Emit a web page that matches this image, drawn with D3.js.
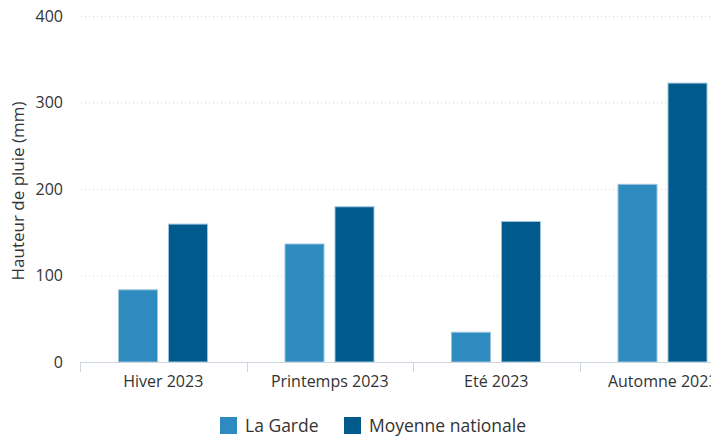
<!DOCTYPE html>
<html>
<head>
<meta charset="utf-8">
<script src="https://cdn.jsdelivr.net/npm/d3@7"></script>
<style>
  html, body { margin: 0; padding: 0; background: #fff; }
  svg { display: block; font-family: "Open Sans", sans-serif; }
</style>
</head>
<body>
<svg id="chart" width="711" height="437"></svg>
<script>
// Seasonal rainfall 2023 (mm)
const categories = ["Hiver 2023", "Printemps 2023", "Eté 2023", "Automne 2023"];
const seriesNames = ["La Garde", "Moyenne nationale"];
const laGarde = [84, 137, 35, 206];
const moyenneNationale = [160, 180, 163, 323];
const yTicks = [0, 100, 200, 300, 400];
const colors = ["#2e8bbf", "#005a8c"];
const textColor = "#333";

const svg = d3.select("#chart");

const x = d3.scaleBand().domain(categories).range([80, 746]).padding(0);
const xInner = d3.scaleBand().domain(seriesNames).range([38, 128]).paddingInner(0.2);
const y = d3.scaleLinear().domain([0, 400]).range([362, 16]);

// gridlines
svg.append("g")
  .selectAll("line")
  .data(yTicks.filter(d => d > 0))
  .join("line")
  .attr("x1", 81).attr("x2", 711)
  .attr("y1", d => y(d) + 0.5).attr("y2", d => y(d) + 0.5)
  .attr("stroke", "#d4d4d4")
  .attr("stroke-width", 1)
  .attr("stroke-dasharray", "1,3");

// y tick labels
svg.append("g")
  .selectAll("text")
  .data(yTicks)
  .join("text")
  .attr("x", 63).attr("y", d => y(d))
  .attr("dy", "0.35em")
  .attr("text-anchor", "end")
  .attr("font-size", 16)
  .attr("fill", textColor)
  .text(d => d);

// y axis title
svg.append("text")
  .attr("transform", "translate(24,191) rotate(-90)")
  .attr("text-anchor", "middle")
  .attr("font-size", 17)
  .attr("fill", textColor)
  .text("Hauteur de pluie (mm)");

// bars
const series = [laGarde, moyenneNationale];
const groups = svg.append("g")
  .selectAll("g")
  .data(categories)
  .join("g")
  .attr("transform", c => `translate(${x(c)},0)`);

groups.selectAll("rect")
  .data((c, i) => seriesNames.map((s, j) => ({ s, j, v: series[j][i] })))
  .join("rect")
  .attr("x", d => xInner(d.s) + 0.5)
  .attr("width", xInner.bandwidth() - 1)
  .attr("y", d => y(d.v) + 0.5)
  .attr("height", d => y(0) - y(d.v) - 0.5)
  .attr("fill", d => colors[d.j])
  .attr("stroke", "#9cc3dd")
  .attr("stroke-width", 1);

// x axis
const xAxis = d3.axisBottom(x).tickSize(0).tickPadding(14);
const ax = svg.append("g").attr("transform", "translate(0,362)").call(xAxis);
ax.select(".domain").attr("stroke", "#ccd6e0").attr("d", "M80.5,0.5H711");
ax.selectAll("text").attr("font-size", 16).attr("fill", textColor)
  .attr("font-family", "Open Sans, sans-serif");
// category separators
svg.append("g")
  .selectAll("line")
  .data(categories)
  .join("line")
  .attr("x1", c => Math.round(x(c)) + 0.5).attr("x2", c => Math.round(x(c)) + 0.5)
  .attr("y1", 362).attr("y2", 372)
  .attr("stroke", "#ccd6e0");

// legend
const legend = svg.append("g").attr("transform", "translate(220,417)");
const items = [{ name: seriesNames[0], x: 0 }, { name: seriesNames[1], x: 124 }];
items.forEach((it, j) => {
  legend.append("rect").attr("x", it.x).attr("y", 0).attr("width", 17).attr("height", 17)
    .attr("fill", colors[j]);
  legend.append("text").attr("x", it.x + 25).attr("y", 9).attr("dy", "0.35em")
    .attr("font-size", 17.5).attr("fill", textColor).text(it.name);
});
</script>
</body>
</html>
